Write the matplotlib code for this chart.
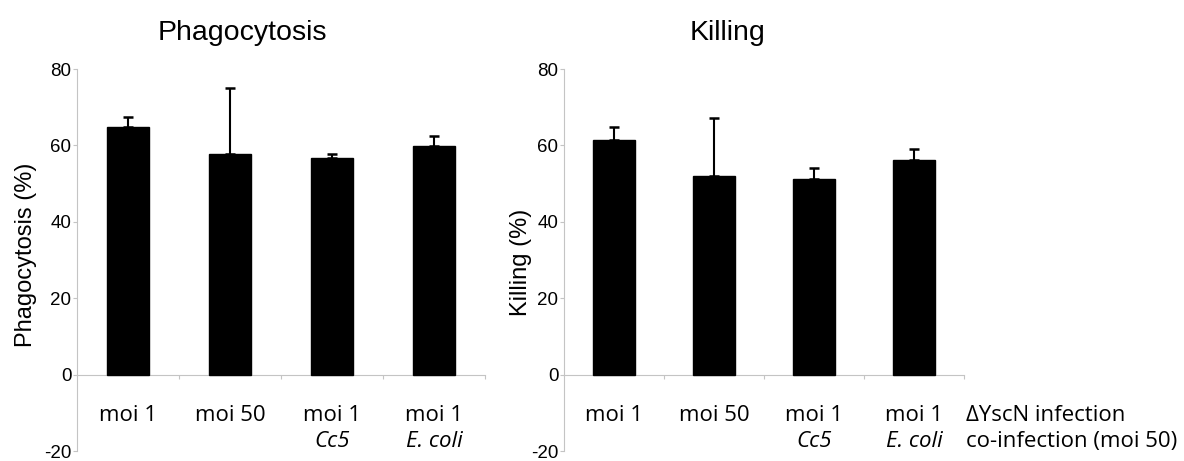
import matplotlib
matplotlib.use("Agg")
import matplotlib.pyplot as plt
from matplotlib.transforms import blended_transform_factory

# ---- data ----
categories_row1 = ["moi 1", "moi 50", "moi 1", "moi 1"]
categories_row2 = ["", "", "Cc5", "E. coli"]
phago_values = [64.9, 57.8, 56.7, 59.8]
phago_err = [2.5, 17.1, 1.1, 2.7]
kill_values = [61.5, 52.0, 51.2, 56.1]
kill_err = [3.3, 15.2, 2.8, 3.0]
yticks = [-20, 0, 20, 40, 60, 80]
titles = ["Phagocytosis", "Killing"]
ylabels = ["Phagocytosis (%)", "Killing (%)"]
row_labels = ["\u0394YscN infection", "co-infection (moi 50)"]

W, H = 1184, 461
fig = plt.figure(figsize=(W / 100, H / 100), dpi=100)

cat_font = ["Open Sans", "DejaVu Sans"]
tick_font = ["Liberation Sans Narrow", "Liberation Sans", "DejaVu Sans"]
title_font = ["Liberation Sans", "DejaVu Sans"]
gray = "#c4c4c4"

def fx(px):
    return px / W

def fy(py):
    return 1 - py / H

panels = [
    dict(left=77, right=485, values=phago_values, err=phago_err,
         title=titles[0], title_x=242, ylabel=ylabels[0], ylabel_x=26, ylabel_y=255),
    dict(left=564, right=964, values=kill_values, err=kill_err,
         title=titles[1], title_x=727, ylabel=ylabels[1], ylabel_x=521, ylabel_y=262),
]

top_px, bot_px = 69, 451
for p in panels:
    ax = fig.add_axes([fx(p["left"]), fy(bot_px), (p["right"] - p["left"]) / W,
                       (bot_px - top_px) / H])
    x = list(range(len(p["values"])))
    ax.bar(x, p["values"], width=0.42, color="black", edgecolor="black", zorder=3)
    ax.errorbar(x, p["values"], yerr=[[0] * len(x), p["err"]], fmt="none",
                ecolor="black", elinewidth=1.5, capsize=3.5, capthick=1.8, zorder=4)
    ax.set_xlim(-0.5, len(x) - 0.5)
    ax.set_ylim(-20, 80)
    ax.set_yticks(yticks)
    ax.set_yticklabels([str(t) for t in yticks], fontfamily=tick_font, fontsize=13.5)
    ax.set_xticks([i + 0.5 for i in x])
    ax.set_xticklabels([])
    for s in ["top", "right"]:
        ax.spines[s].set_visible(False)
    ax.spines["bottom"].set_position(("data", 0))
    ax.spines["bottom"].set_color(gray)
    ax.spines["left"].set_color(gray)
    ax.spines["bottom"].set_linewidth(0.8)
    ax.spines["left"].set_linewidth(0.8)
    ax.tick_params(axis="y", direction="out", length=3, width=0.8, color=gray, pad=1)
    ax.tick_params(axis="x", direction="out", length=3, width=0.8, color=gray)
    ax.patch.set_visible(False)

    trans = blended_transform_factory(ax.transData, fig.transFigure)
    for i in x:
        ax.text(i, fy(421), categories_row1[i], transform=trans, ha="center",
                va="baseline", fontfamily=cat_font, fontsize=16)
        if categories_row2[i]:
            ax.text(i, fy(447), categories_row2[i], transform=trans, ha="center",
                    va="baseline", fontfamily=cat_font, fontsize=16, style="italic")

    fig.text(fx(p["title_x"]), fy(40), p["title"], ha="center", va="baseline",
             fontfamily=title_font, fontsize=20.5)
    fig.text(fx(p["ylabel_x"]), fy(p["ylabel_y"]), p["ylabel"], rotation=90,
             ha="center", va="center", fontfamily=title_font, fontsize=17)

fig.text(fx(966), fy(421), row_labels[0], ha="left", va="baseline",
         fontfamily=cat_font, fontsize=16)
fig.text(fx(966), fy(447), row_labels[1], ha="left", va="baseline",
         fontfamily=cat_font, fontsize=16)

fig.savefig("out.png", dpi=100)
